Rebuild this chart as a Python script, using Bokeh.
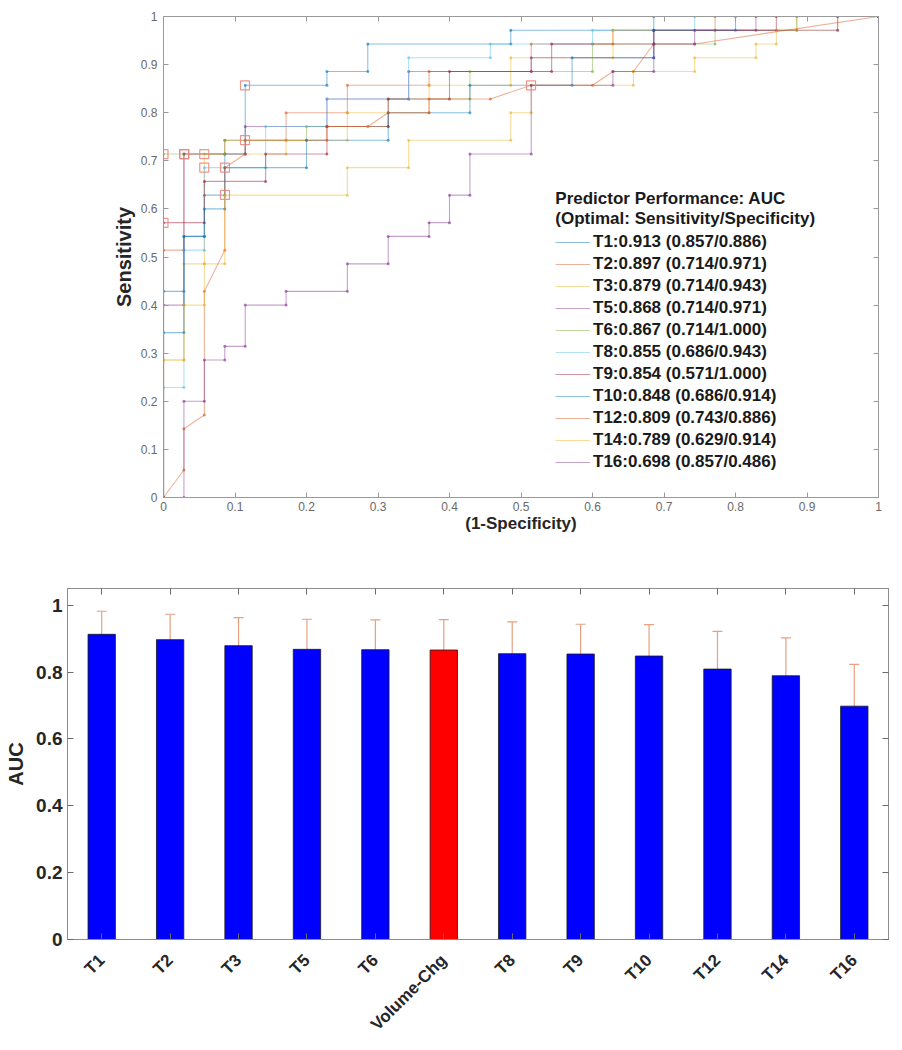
import math
from bokeh.plotting import figure
from bokeh.models import (Range1d, FactorRange, FixedTicker, LinearAxis, CategoricalAxis,
                          Legend, LegendItem, Label, Whisker, ColumnDataSource,
                          CustomJSTickFormatter, TeeHead)
from bokeh.embed import file_html
from bokeh.resources import INLINE

# ---------------- data ----------------
# ROC curves: cumulative false-positive / true-positive counts (35 negatives, 35 positives)
N_NEG = 35
N_POS = 35
series_names = ["T1", "T2", "T3", "T5", "T6", "T8", "T9", "T10", "T12", "T14", "T16"]
series_auc = [0.913, 0.897, 0.879, 0.868, 0.867, 0.855, 0.854, 0.848, 0.809, 0.789, 0.698]
opt_sens = [0.857, 0.714, 0.714, 0.714, 0.714, 0.686, 0.571, 0.686, 0.743, 0.629, 0.857]
opt_spec = [0.886, 0.971, 0.943, 0.971, 1.000, 0.943, 1.000, 0.914, 0.886, 0.914, 0.486]

T1_fp = [0, 0, 1, 1, 2, 2, 3, 3, 4, 4, 8, 8, 10, 10, 17, 17, 24, 24, 35]
T1_tp = [0, 15, 15, 19, 19, 22, 22, 25, 25, 30, 30, 31, 31, 33, 33, 34, 34, 35, 35]
T2_fp = [0, 0, 1, 1, 3, 3, 6, 6, 9, 9, 13, 13, 18, 18, 22, 22, 27, 27, 35]
T2_tp = [0, 18, 18, 25, 25, 26, 26, 28, 28, 30, 30, 31, 31, 33, 33, 34, 34, 35, 35]
T3_fp = [0, 0, 1, 1, 2, 2, 6, 6, 9, 9, 13, 13, 17, 17, 22, 22, 31, 31, 35]
T3_tp = [0, 10, 10, 17, 17, 25, 25, 26, 26, 28, 28, 30, 30, 32, 32, 34, 34, 35, 35]
T5_fp = [0, 0, 1, 1, 4, 4, 8, 8, 12, 12, 18, 18, 24, 24, 29, 29, 35]
T5_tp = [0, 14, 14, 25, 25, 27, 27, 29, 29, 31, 31, 32, 32, 34, 34, 35, 35]
T6_fp = [0, 0, 3, 3, 7, 7, 11, 11, 15, 15, 21, 21, 27, 27, 31, 31, 35]
T6_tp = [0, 25, 25, 26, 26, 27, 27, 29, 29, 31, 31, 33, 33, 34, 34, 35, 35]
T8_fp = [0, 0, 1, 1, 2, 2, 5, 5, 8, 8, 12, 12, 16, 16, 21, 21, 26, 26, 35]
T8_tp = [0, 8, 8, 18, 18, 24, 24, 27, 27, 29, 29, 32, 32, 33, 33, 34, 34, 35, 35]
T9_fp = [0, 0, 2, 2, 5, 5, 8, 8, 11, 11, 14, 14, 19, 19, 24, 24, 30, 30, 35]
T9_tp = [0, 20, 20, 23, 23, 25, 25, 27, 27, 29, 29, 31, 31, 33, 33, 34, 34, 35, 35]
T10_fp = [0, 0, 1, 1, 2, 2, 3, 3, 7, 7, 11, 11, 15, 15, 20, 20, 24, 24, 28, 28, 35]
T10_tp = [0, 12, 12, 19, 19, 21, 21, 24, 24, 26, 26, 28, 28, 30, 30, 32, 32, 34, 34, 35, 35]
T12_fp = [0, 1, 1, 2, 2, 3, 3, 4, 4, 8, 8, 10, 11, 13, 13, 16, 18, 21, 22, 23, 24, 26, 35]
T12_tp = [0, 2, 5, 6, 15, 18, 24, 25, 26, 26, 27, 27, 28, 28, 29, 29, 30, 30, 31, 31, 33, 33, 35]
T14_fp = [0, 0, 1, 1, 2, 2, 3, 3, 9, 9, 12, 12, 17, 17, 18, 18, 23, 23, 26, 26, 29, 29, 30, 30, 33, 33, 35]
T14_tp = [0, 10, 10, 14, 14, 17, 17, 22, 22, 24, 24, 26, 26, 28, 28, 30, 30, 31, 31, 32, 32, 33, 33, 34, 34, 35, 35]
T16_fp = [0, 1, 1, 2, 2, 3, 3, 4, 4, 6, 6, 9, 9, 11, 11, 13, 13, 14, 14, 15, 15, 18, 18, 22, 22, 24, 24, 26, 26, 33, 33, 35]
T16_tp = [0, 0, 7, 7, 10, 10, 11, 11, 14, 14, 15, 15, 17, 17, 19, 19, 20, 20, 22, 22, 25, 25, 30, 30, 31, 31, 33, 33, 34, 34, 35, 35]

roc_fp = [T1_fp, T2_fp, T3_fp, T5_fp, T6_fp, T8_fp, T9_fp, T10_fp, T12_fp, T14_fp, T16_fp]
roc_tp = [T1_tp, T2_tp, T3_tp, T5_tp, T6_tp, T8_tp, T9_tp, T10_tp, T12_tp, T14_tp, T16_tp]

# Bar chart
categories = ["T1", "T2", "T3", "T5", "T6", "Volume-Chg", "T8", "T9", "T10", "T12", "T14", "T16"]
auc_values = [0.913, 0.897, 0.879, 0.868, 0.867, 0.866, 0.855, 0.854, 0.848, 0.809, 0.789, 0.698]
ci_low = [0.843, 0.821, 0.795, 0.779, 0.779, 0.774, 0.760, 0.765, 0.755, 0.698, 0.677, 0.572]
ci_high = [0.982, 0.973, 0.963, 0.958, 0.956, 0.957, 0.950, 0.943, 0.942, 0.922, 0.902, 0.823]
highlight = "Volume-Chg"

# ---------------- style ----------------
FONT = "Liberation Sans"
MATLAB = ["#0072BD", "#D95319", "#EDB120", "#7E2F8E", "#77AC30", "#4DBEEE", "#A2142F"]
AX_GRAY = "#9a9a9a"
TXT_GRAY = "#6a6a6a"
DARK = "#262626"

def num_fmt():
    return CustomJSTickFormatter(code="""
        if (Math.abs(tick - Math.round(tick)) < 1e-9) { return Math.round(tick).toString(); }
        return tick.toFixed(1);
    """)

def blank_fmt():
    return CustomJSTickFormatter(code="return '';")

# ---------------- ROC figure ----------------
p1 = figure(width=898, height=553, x_range=Range1d(0, 1), y_range=Range1d(0, 1),
            output_backend="svg", toolbar_location=None,
            min_border_left=163, min_border_right=20, min_border_top=16, min_border_bottom=56)
p1.grid.visible = False
p1.outline_line_color = AX_GRAY
p1.background_fill_color = "white"

ticks10 = [i / 10 for i in range(11)]
for ax in (p1.xaxis[0], p1.yaxis[0]):
    ax.ticker = FixedTicker(ticks=ticks10)
    ax.formatter = num_fmt()
    ax.major_tick_in = 5
    ax.major_tick_out = 0
    ax.minor_tick_line_color = None
    ax.axis_line_color = AX_GRAY
    ax.major_tick_line_color = AX_GRAY
    ax.major_label_text_font = FONT
    ax.major_label_text_font_size = "12px"
    ax.major_label_text_color = TXT_GRAY
    ax.axis_label_text_font = FONT
    ax.axis_label_text_font_style = "bold"
    ax.axis_label_text_color = DARK
p1.xaxis[0].axis_label = "(1-Specificity)"
p1.xaxis[0].axis_label_text_font_size = "17px"
p1.xaxis[0].axis_label_standoff = 0
p1.xaxis[0].major_label_standoff = 4
p1.yaxis[0].axis_label = "Sensitivity"
p1.yaxis[0].axis_label_text_font_size = "20px"
p1.yaxis[0].axis_label_standoff = 3
p1.yaxis[0].major_label_standoff = 6

for loc in ("right", "above"):
    ax = LinearAxis(ticker=FixedTicker(ticks=ticks10), formatter=blank_fmt(),
                    major_tick_in=5, major_tick_out=0,
                    minor_tick_line_color=None, axis_line_color=AX_GRAY,
                    major_tick_line_color=AX_GRAY, major_label_text_color=None,
                    major_label_standoff=0)
    p1.add_layout(ax, loc)

items = []
for i, name in enumerate(series_names):
    color = MATLAB[i % len(MATLAB)]
    xs = [1.0 * v / N_NEG for v in roc_fp[i]]
    ys = [1.0 * v / N_POS for v in roc_tp[i]]
    lr = p1.line(xs, ys, line_color=color, line_width=1.1, line_alpha=0.45)
    p1.scatter(xs, ys, marker="circle", size=3, fill_color=color, line_color=None, fill_alpha=0.6)
    label = "%s:%.3f (%.3f/%.3f)" % (name, series_auc[i], opt_sens[i], opt_spec[i])
    items.append(LegendItem(label=label, renderers=[lr]))

opt_x = [1 - s for s in opt_spec]
p1.scatter(opt_x, opt_sens, marker="square", size=9, fill_color=None,
           line_color="#E8857A", line_width=1.2, line_alpha=0.85)

legend = Legend(items=items, location=(392, 25), orientation="vertical",
                glyph_width=35, glyph_height=20, label_height=20, spacing=2,
                padding=0, margin=0, border_line_color=None, background_fill_alpha=0,
                label_text_font=FONT, label_text_font_style="bold",
                label_text_font_size="17px", label_text_color="#1a1a1a", label_standoff=3)
p1.add_layout(legend, "center")

p1.add_layout(Label(x=0.548, y=0.622, text="Predictor Performance: AUC", text_font=FONT,
                    text_font_style="bold", text_font_size="17px", text_color="#1a1a1a",
                    text_baseline="middle"))
p1.add_layout(Label(x=0.548, y=0.580, text="(Optimal: Sensitivity/Specificity)", text_font=FONT,
                    text_font_style="bold", text_font_size="17px", text_color="#1a1a1a",
                    text_baseline="middle"))

# ---------------- bar figure ----------------
bar_colors = ["#FF0000" if c == highlight else "#0000FF" for c in categories]
src = ColumnDataSource(dict(cat=categories, auc=auc_values, lo=ci_low, hi=ci_high, color=bar_colors))

p2 = figure(width=898, height=490, x_range=FactorRange(factors=categories), y_range=Range1d(0, 1.05),
            output_backend="svg", toolbar_location=None,
            min_border_left=67, min_border_right=10, min_border_top=35, min_border_bottom=104)
p2.grid.visible = False
p2.outline_line_color = "#8c8c8c"
p2.vbar(x="cat", top="auc", width=0.4, fill_color="color", line_color="#1a1a1a", line_width=0.8, source=src)

ERR = "#E8A080"
w = Whisker(base="cat", upper="hi", lower="lo", source=src, line_color=ERR, line_width=1.2,
            upper_head=TeeHead(size=10, line_color=ERR, line_width=1.2),
            lower_head=TeeHead(size=10, line_color=ERR, line_width=1.2))
p2.add_layout(w)

ticks5 = [0, 0.2, 0.4, 0.6, 0.8, 1.0]
ya = p2.yaxis[0]
ya.ticker = FixedTicker(ticks=ticks5)
ya.formatter = num_fmt()
ya.axis_label = "AUC"
ya.axis_label_text_font = FONT
ya.axis_label_text_font_style = "bold"
ya.axis_label_text_font_size = "20px"
ya.axis_label_text_color = DARK
ya.axis_label_standoff = 6
ya.major_label_standoff = 5
ya.major_label_text_font = FONT
ya.major_label_text_font_style = "bold"
ya.major_label_text_font_size = "19px"
ya.major_label_text_color = DARK

xa = p2.xaxis[0]
xa.major_label_orientation = math.pi / 4
xa.major_label_text_font = FONT
xa.major_label_text_font_style = "bold"
xa.major_label_text_font_size = "17px"
xa.major_label_text_color = DARK
xa.major_label_standoff = 18

for ax in (xa, ya):
    ax.major_tick_in = 6
    ax.major_tick_out = 0
    ax.minor_tick_line_color = None
    ax.axis_line_color = "#8c8c8c"
    ax.major_tick_line_color = "#6c6c6c"

p2.add_layout(LinearAxis(ticker=FixedTicker(ticks=ticks5), formatter=blank_fmt(),
                         major_tick_in=6, major_tick_out=0,
                         minor_tick_line_color=None, axis_line_color="#8c8c8c",
                         major_tick_line_color="#6c6c6c", major_label_text_color=None,
                         major_label_standoff=0), "right")
p2.add_layout(CategoricalAxis(major_tick_in=6, major_tick_out=0, axis_line_color="#8c8c8c",
                              major_tick_line_color="#6c6c6c", major_label_text_color=None,
                              major_label_overrides={c: "" for c in categories},
                              major_label_standoff=0), "above")

open("out.html", "w").write(file_html([p1, p2], INLINE))
